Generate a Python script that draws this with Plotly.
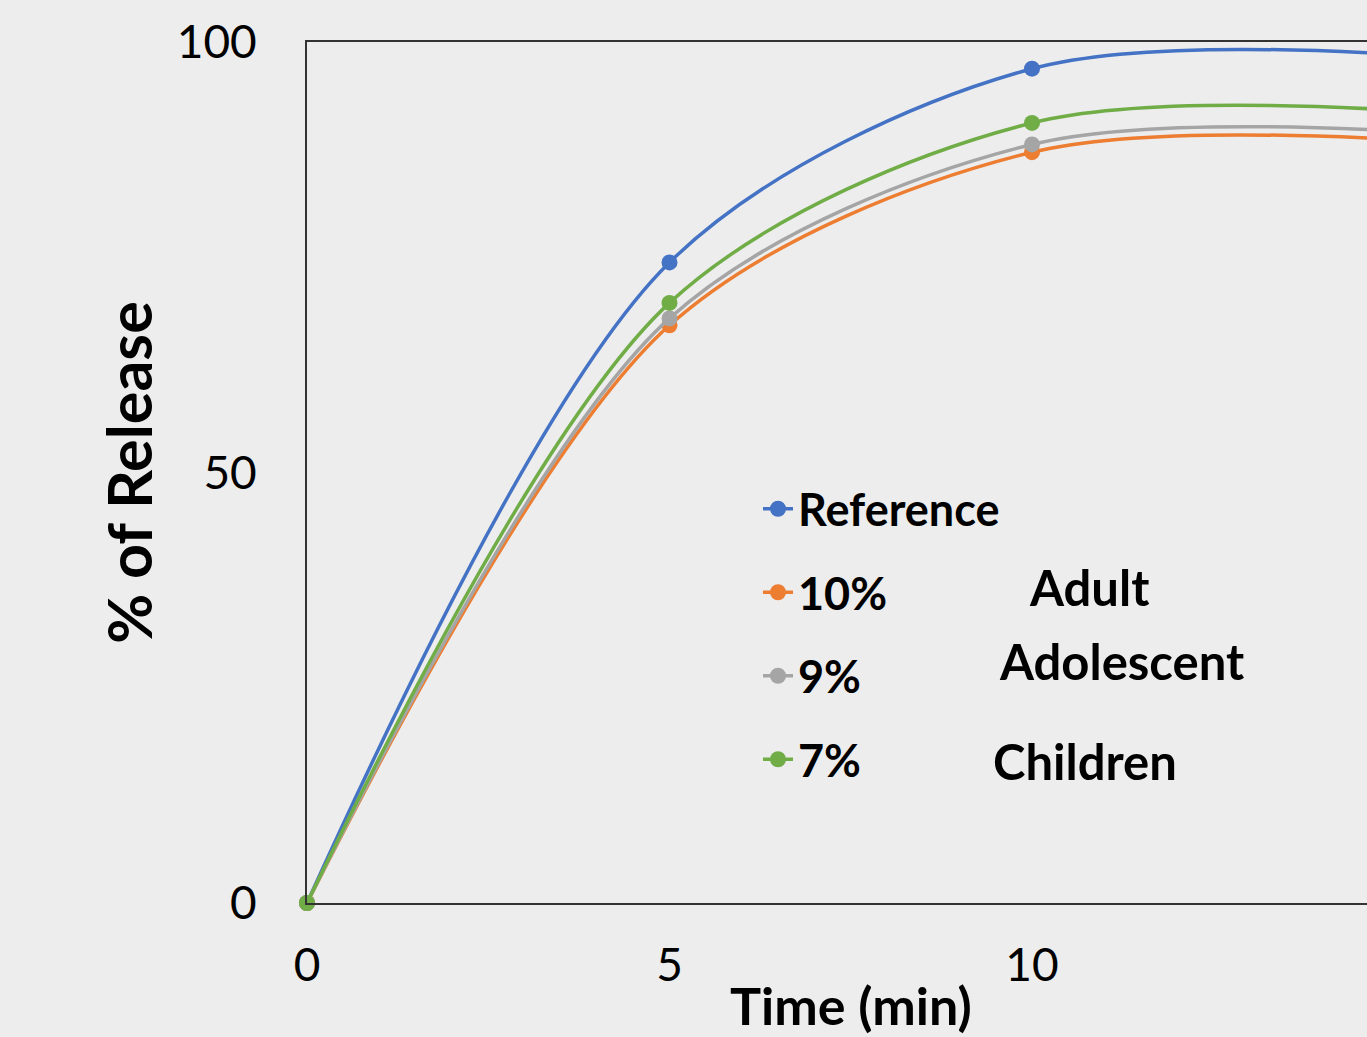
import plotly.graph_objects as go

time_min = [0, 5, 10, 15]
series_names = ["Reference", "10%", "9%", "7%"]
reference = [0, 74.4, 96.9, 98.6]
pct10 = [0, 67.1, 87.2, 88.7]
pct9 = [0, 67.9, 88.1, 89.7]
pct7 = [0, 69.7, 90.6, 92.1]
colors = ["#4472C4", "#ED7D31", "#A5A5A5", "#70AD47"]
group_labels = ["Adult", "Adolescent", "Children"]
y_ticks = [0, 50, 100]
x_ticks = [0, 5, 10]

fig = go.Figure()
for name, vals, col in zip(series_names, [reference, pct10, pct9, pct7], colors):
    fig.add_trace(go.Scatter(
        x=time_min, y=vals, name=name, mode="lines+markers",
        line=dict(color=col, width=3.5, shape="spline", smoothing=0.9),
        marker=dict(color=col, size=16),
        cliponaxis=False, legendgroup=name,
    ))

W, H = 1367, 1037
L, R, T, B = 307, 0, 42, 134
pw = W - L - R
ph = 903 - 42
x_max = pw / 72.5

ann_font = dict(size=49, family="Lato", weight="bold")

fig.update_layout(
    width=W, height=H,
    margin=dict(l=L, r=R, t=T, b=B, pad=0),
    paper_bgcolor="#EDEDED", plot_bgcolor="#EDEDED",
    font=dict(family="Lato", color="#000000"),
    showlegend=True,
    legend=dict(
        x=(758 - L) / pw, y=(903 - 473) / ph, xanchor="left", yanchor="top",
        bgcolor="rgba(0,0,0,0)",
        font=dict(size=45, family="Lato", color="#000", weight="bold"),
        traceorder="grouped", tracegroupgap=22,
    ),
    xaxis=dict(
        range=[0, x_max], tickvals=x_ticks, showgrid=False, zeroline=False,
        showline=True, linecolor="#333333", linewidth=2, mirror=True,
        ticks="", tickfont=dict(size=46, family="Lato"), ticklabelstandoff=21,
    ),
    yaxis=dict(
        range=[0, 100], tickvals=y_ticks, showgrid=False, zeroline=False,
        showline=True, linecolor="#333333", linewidth=2, mirror=False,
        ticks="", tickfont=dict(size=46, family="Lato"), ticklabelstandoff=39,
        title=dict(text="% of Release", font=dict(size=61, family="Lato", weight="bold"), standoff=4),
    ),
    annotations=[
        dict(text="Time (min)", xref="paper", yref="paper",
             x=(851 - L) / pw, y=-(1005 - 903) / ph, xanchor="center", yanchor="middle",
             showarrow=False, font=dict(size=52, family="Lato", weight="bold")),
        dict(text=group_labels[0], xref="paper", yref="paper",
             x=(1089 - L) / pw, y=(903 - 587) / ph, xanchor="center", yanchor="middle",
             showarrow=False, font=ann_font),
        dict(text=group_labels[1], xref="paper", yref="paper",
             x=(1121 - L) / pw, y=(903 - 661) / ph, xanchor="center", yanchor="middle",
             showarrow=False, font=ann_font),
        dict(text=group_labels[2], xref="paper", yref="paper",
             x=(1085 - L) / pw, y=(903 - 761) / ph, xanchor="center", yanchor="middle",
             showarrow=False, font=ann_font),
    ],
)

fig.write_html("out.html")
